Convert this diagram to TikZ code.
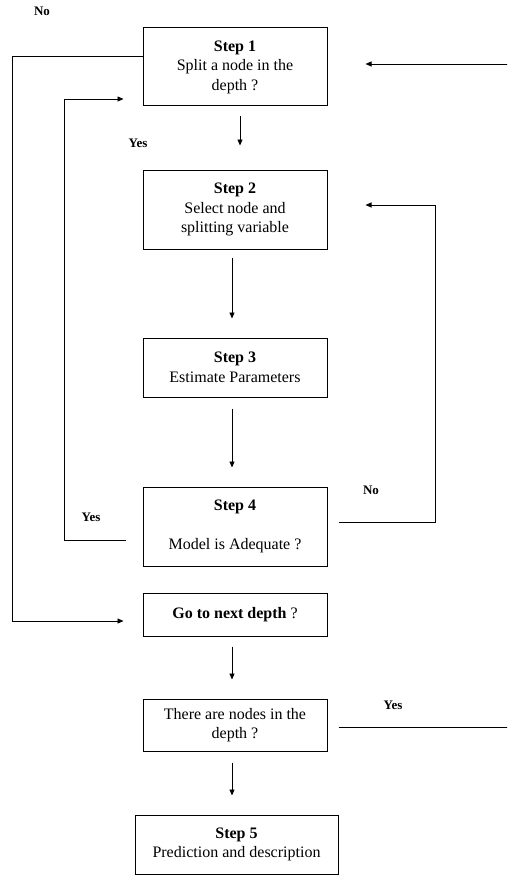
\documentclass[tikz,border=0pt]{standalone}
\usepackage{fontspec}
\setmainfont{Liberation Serif}
\usetikzlibrary{arrows.meta, positioning}

\begin{document}
\begin{tikzpicture}[x=1pt, y=-1pt,
    stepbox/.style={draw, line width=1pt, minimum width=184pt, align=center, inner sep=2pt,
        font=\fontsize{16}{19.5}\selectfont},
    arr/.style={-{Triangle[length=6pt,width=5pt]}, line width=0.9pt},
    lbl/.style={font=\fontsize{13}{15}\selectfont\bfseries}]
    \useasboundingbox (0,0) rectangle (507,880);
    \clip (0,0) rectangle (507,880);

    \node[stepbox, minimum height=78pt] (s1) at (235,67) {\textbf{Step 1}\\Split a node in the\\depth ?};
    \node[stepbox, minimum height=79pt] (s2) at (235,209.5) {\textbf{Step 2}\\Select node and\\splitting variable};
    \node[stepbox, minimum height=59pt] (s3) at (235,367.5) {\textbf{Step 3}\\Estimate Parameters};
    \node[stepbox, minimum height=79pt] (s4) at (235,526.5) {\textbf{Step 4}\\[20pt]Model is Adequate ?};
    \node[stepbox, minimum height=43pt] (go) at (235,614.5) {\textbf{Go to next depth} ?};
    \node[stepbox, minimum height=52pt] (there) at (235,725) {There are nodes in the\\depth ?};
    \node[stepbox, minimum width=203pt, minimum height=59pt] (s5) at (236.5,844.5) {\textbf{Step 5}\\Prediction and description};

    \node[lbl] (no1) at (42,11) {No};
    \node[lbl] (yes1) at (138,143) {Yes};
    \node[lbl] (no2) at (371,490) {No};
    \node[lbl] (yes2) at (91,517) {Yes};
    \node[lbl] (yes3) at (393,705) {Yes};

    \draw[arr] ([xshift=5pt,yshift=-10pt]s1.south) -- ([xshift=5pt,yshift=24pt]s2.north);
    \draw[arr] ([xshift=-3pt,yshift=-8pt]s2.south) -- ([xshift=-3pt,yshift=19pt]s3.north);
    \draw[arr] ([xshift=-3pt,yshift=-11pt]s3.south) -- ([xshift=-3pt,yshift=19pt]s4.north);
    \draw[arr] ([xshift=-3pt,yshift=-10pt]go.south) -- ([xshift=-3pt,yshift=19pt]there.north);
    \draw[arr] ([xshift=-3pt,yshift=-11pt]there.south) -- ([xshift=-4.5pt,yshift=19pt]s5.north);

    \draw[arr] ([yshift=11pt]s1.west) -- (12,56) |- ([xshift=-19pt,yshift=-6.5pt]go.west);
    \draw[arr] ([xshift=-17pt,yshift=-13.5pt]s4.west) -- (64,540) |- ([xshift=-19pt,yshift=-32pt]s1.west);
    \draw[arr] ([xshift=11pt,yshift=4.5pt]s4.east) -| (435,205) -- ([xshift=38pt,yshift=4.5pt]s2.east);
    \draw[arr] ([xshift=11pt,yshift=-2pt]there.east) -- (515,727) |- ([xshift=38pt,yshift=3pt]s1.east);
\end{tikzpicture}
\end{document}
